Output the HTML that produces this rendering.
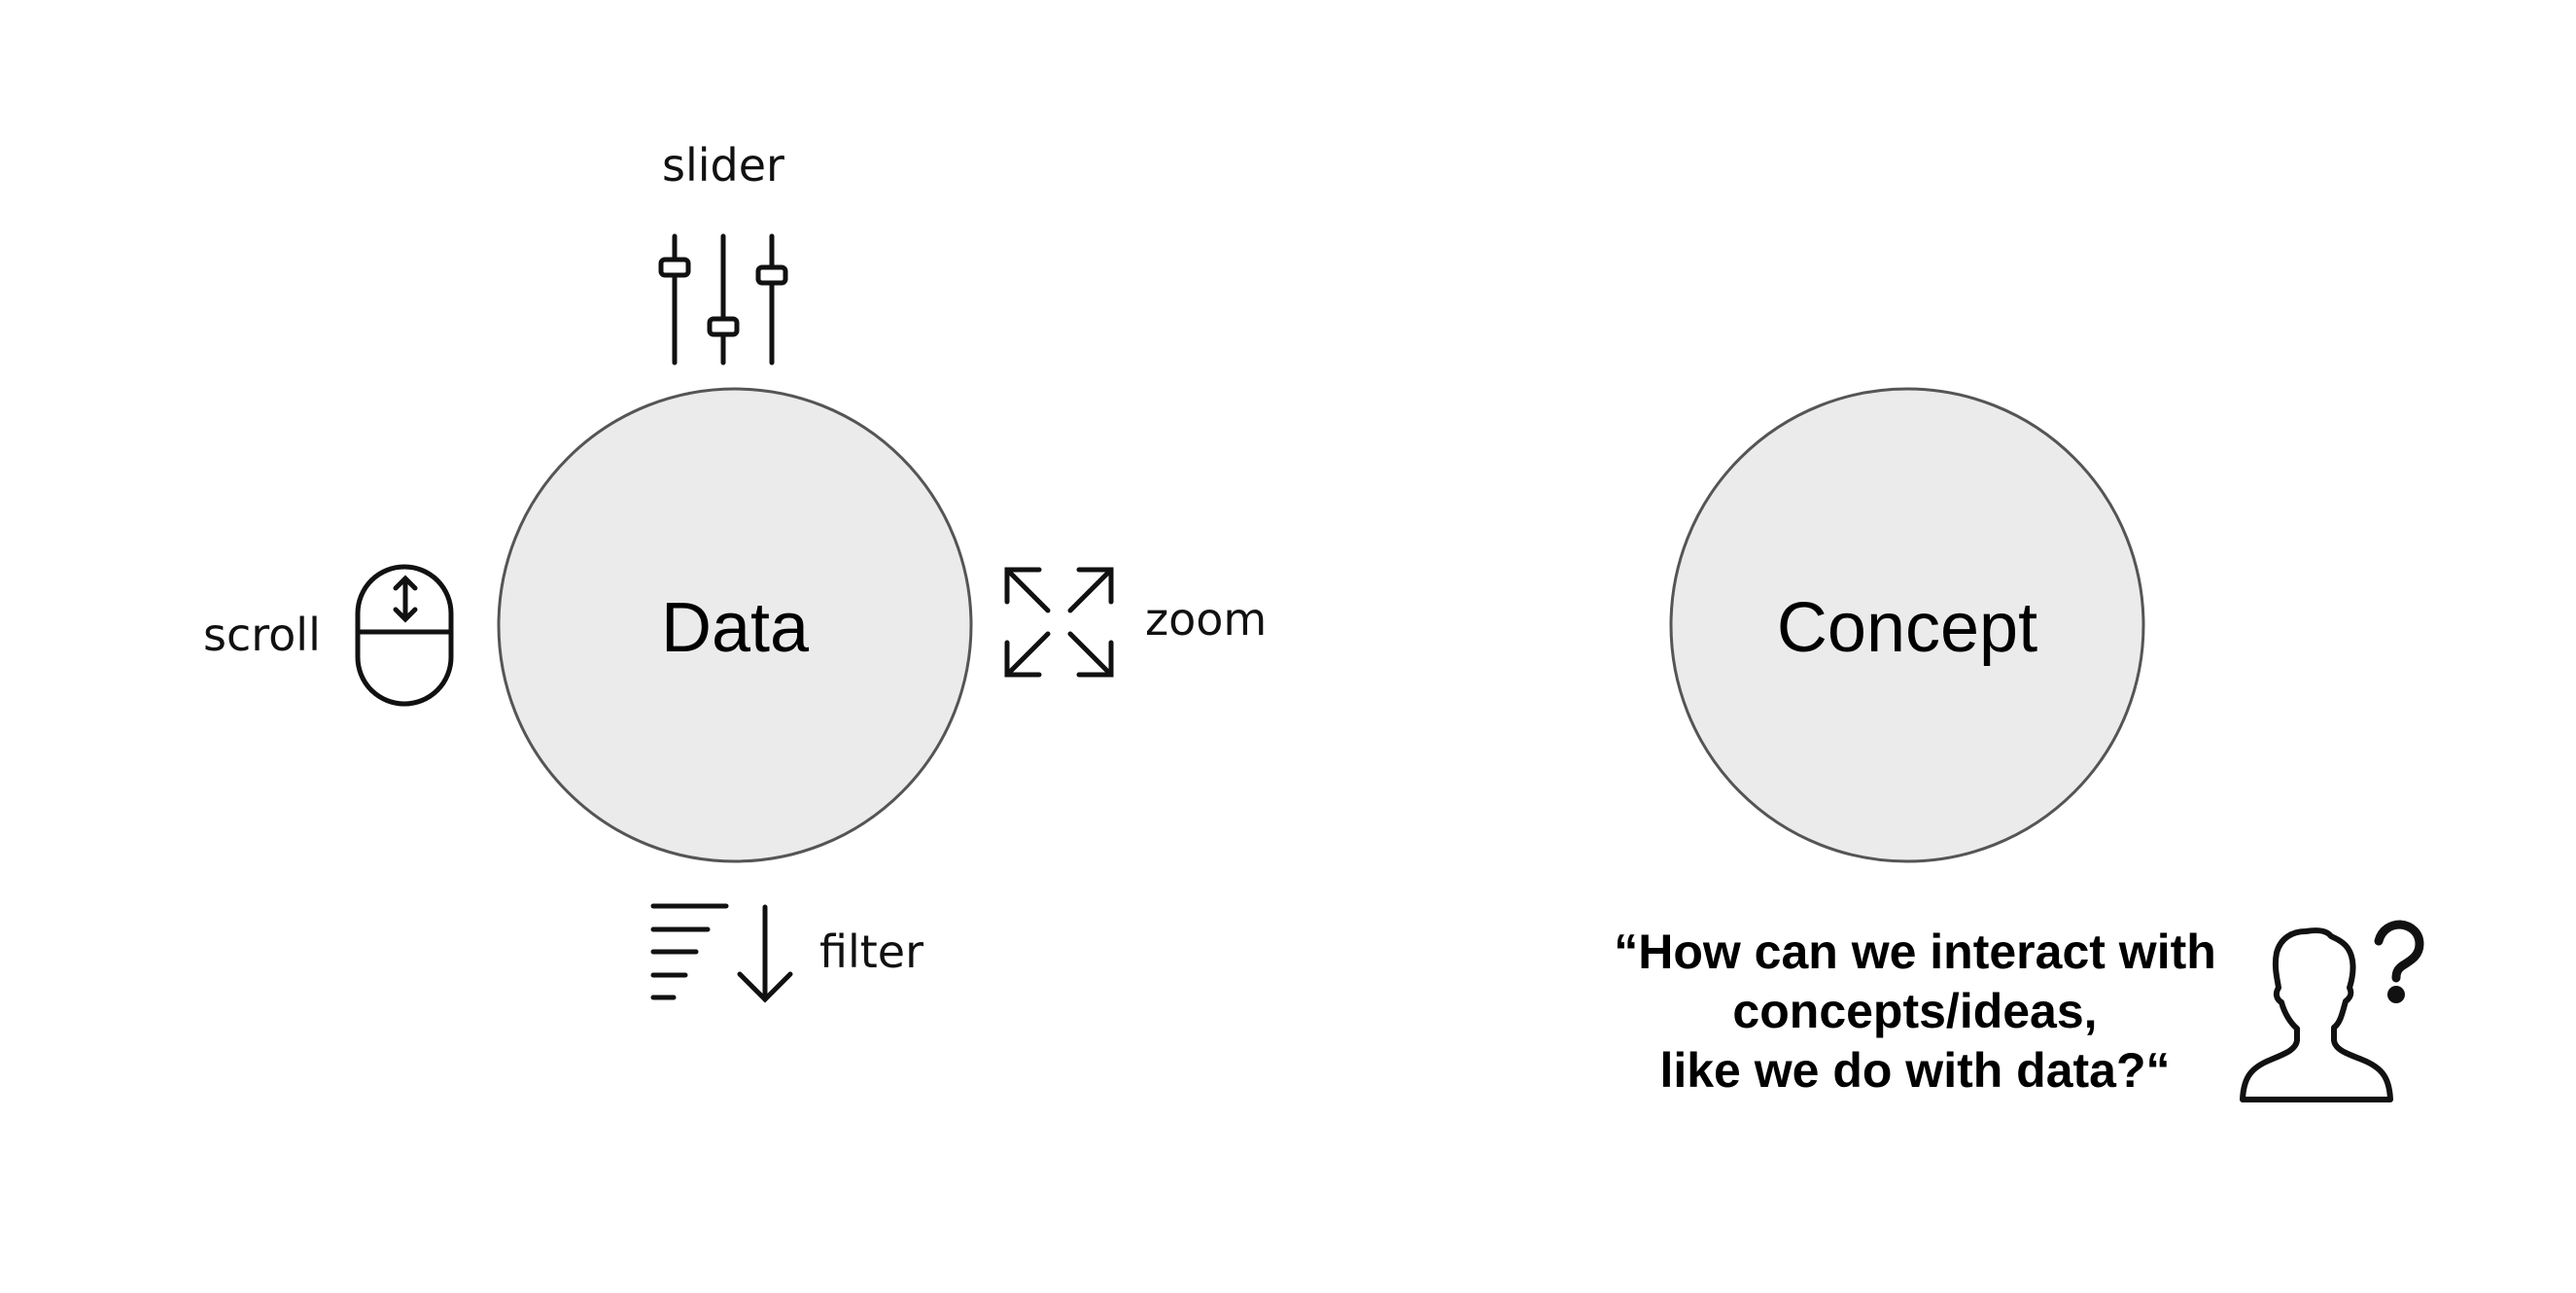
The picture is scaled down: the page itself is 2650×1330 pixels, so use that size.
<!DOCTYPE html>
<html><head><meta charset="utf-8"><style>
html,body{margin:0;padding:0;background:#fff;}
svg{display:block}
</style></head><body>
<svg width="2650" height="1330" viewBox="0 0 2650 1330" xmlns="http://www.w3.org/2000/svg">
<rect width="2650" height="1330" fill="#fff"/>
<circle cx="756" cy="643" r="243" fill="#ebebeb" stroke="#555" stroke-width="3"/>
<circle cx="1962" cy="643" r="243" fill="#ebebeb" stroke="#555" stroke-width="3"/>
<g font-family="Liberation Sans, sans-serif" fill="#000">
<text x="756" y="670" font-size="72" text-anchor="middle">Data</text>
<text x="1962" y="670" font-size="72" text-anchor="middle">Concept</text>
</g>
<g font-family="DejaVu Sans, Liberation Sans, sans-serif" fill="#111" font-size="46">
<text x="744" y="186" text-anchor="middle">slider</text>
<text x="209" y="669">scroll</text>
<text x="1178" y="653">zoom</text>
<text x="843" y="995">filter</text>
</g>
<g font-family="Liberation Sans, sans-serif" font-weight="bold" font-size="50" fill="#000" text-anchor="middle">
<text x="1970" y="996">“How can we interact with</text>
<text x="1970" y="1057">concepts/ideas,</text>
<text x="1970" y="1118">like we do with data?“</text>
</g>
<g stroke="#111" stroke-width="5" fill="#fff" stroke-linecap="round">
<line x1="694" y1="243" x2="694" y2="373"/>
<line x1="744" y1="243" x2="744" y2="373"/>
<line x1="794" y1="243" x2="794" y2="373"/>
<rect x="680" y="267" width="28" height="16" rx="4"/>
<rect x="730" y="328" width="28" height="16" rx="4"/>
<rect x="780" y="275" width="28" height="16" rx="4"/>
</g>
<g stroke="#111" stroke-width="5" fill="none" stroke-linecap="round">
<rect x="368" y="583" width="96" height="141" rx="48"/>
<line x1="368" y1="650" x2="464" y2="650"/>
<line x1="417" y1="596" x2="417" y2="636"/>
<polyline points="407,605 417,595 427,605"/>
<polyline points="407,627 417,637 427,627"/>
</g>
<g stroke="#111" stroke-width="5" fill="none" stroke-linecap="round">
<line x1="1036" y1="586" x2="1078" y2="628"/><polyline points="1036,619 1036,586 1069,586"/>
<line x1="1143" y1="586" x2="1101" y2="628"/><polyline points="1110,586 1143,586 1143,619"/>
<line x1="1036" y1="694" x2="1078" y2="652"/><polyline points="1036,661 1036,694 1069,694"/>
<line x1="1143" y1="694" x2="1101" y2="652"/><polyline points="1110,694 1143,694 1143,661"/>
</g>
<g stroke="#111" stroke-width="5" fill="none" stroke-linecap="round">
<line x1="672" y1="932" x2="747" y2="932"/>
<line x1="672" y1="956" x2="728" y2="956"/>
<line x1="672" y1="979" x2="716" y2="979"/>
<line x1="672" y1="1003" x2="705" y2="1003"/>
<line x1="672" y1="1026" x2="693" y2="1026"/>
<line x1="787" y1="933" x2="787" y2="1028"/>
<polyline points="761,1002 787,1028 813,1002"/>
</g>
<g stroke="#111" stroke-width="6" fill="none" stroke-linejoin="round" stroke-linecap="round">
<path d="M2307,1131 L2459,1131 C2458,1108 2450,1098 2430,1090 C2415,1084 2402,1080 2401,1070 L2401,1057 C2408,1052 2410,1040 2413,1030 C2418,1026 2420,1022 2417,1016 C2422,1000 2422,985 2415,975 C2410,968 2402,965 2398,963 C2392,955 2378,957 2372,958 C2358,958 2346,965 2342,980 C2339,995 2343,1008 2344,1016 C2340,1022 2342,1028 2347,1031 C2350,1042 2356,1052 2363,1058 L2363,1070 C2362,1080 2350,1084 2336,1090 C2316,1098 2308,1108 2307,1131 Z"/>
</g>
<path d="M2447,968 C2450,956 2460,951 2469,951 C2481,952 2489,960 2489,971 C2489,983 2480,988 2472,993 C2466,997 2465,1001 2465,1006" stroke="#111" stroke-width="9" fill="none" stroke-linecap="round"/>
<circle cx="2465" cy="1023" r="9" fill="#111"/>
</svg>
</body></html>
